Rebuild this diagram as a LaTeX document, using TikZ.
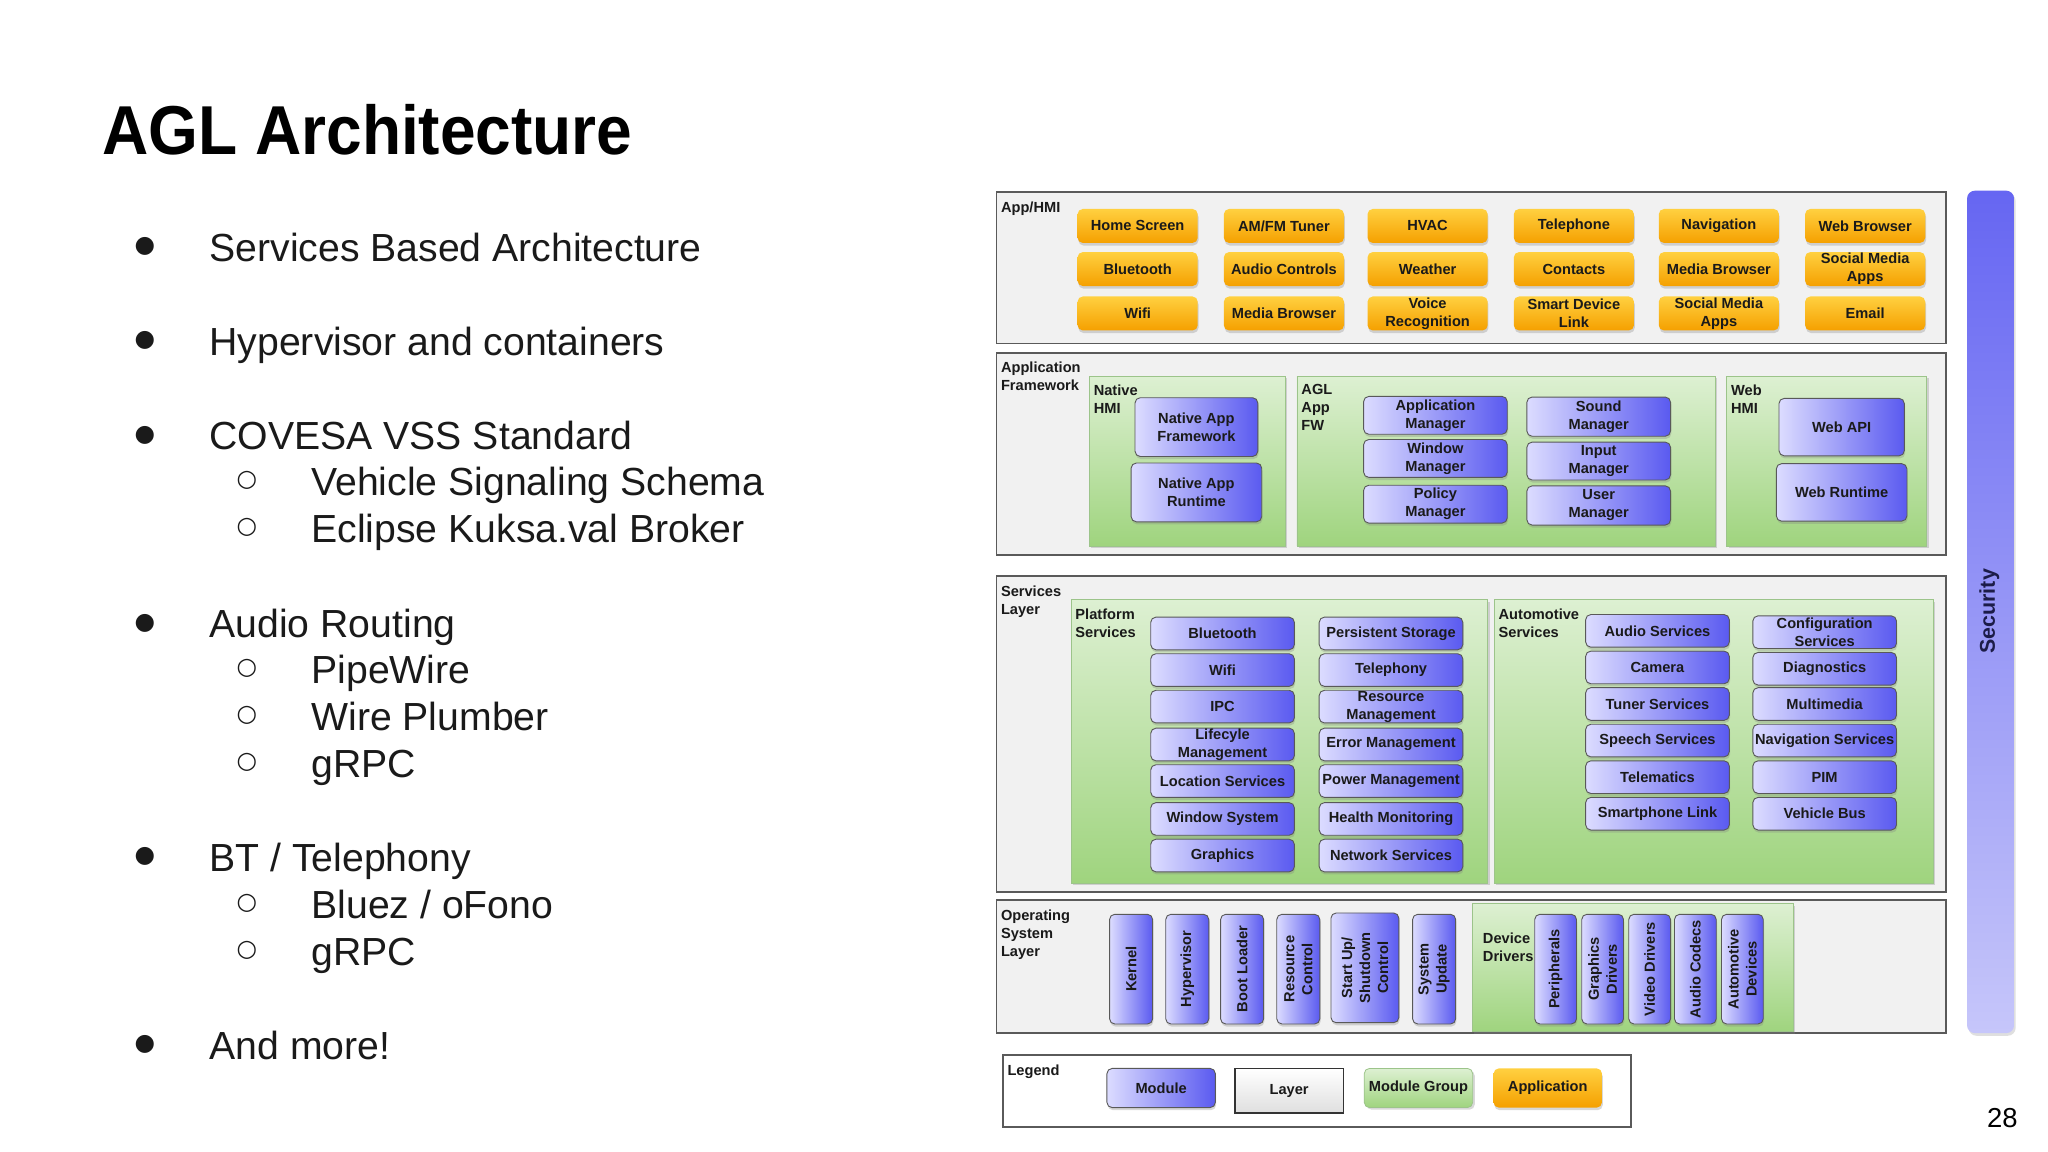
\documentclass[tikz,border=0pt]{standalone}
\usepackage{fontspec}
\setmainfont{Liberation Sans}
\newfontfamily\titlefont[FakeStretch=0.925]{Liberation Sans}
\newfontfamily\symfont{DejaVu Sans}
\usetikzlibrary{shadows}
\definecolor{modL}{HTML}{DCDCFF}
\definecolor{modR}{HTML}{5A5AF0}
\definecolor{appT}{HTML}{FFD040}
\definecolor{appB}{HTML}{F5A000}
\definecolor{grpT}{HTML}{DDF0D2}
\definecolor{grpB}{HTML}{9FD47E}
\definecolor{grpD}{HTML}{9CC48A}
\definecolor{layerF}{HTML}{F1F1F1}
\definecolor{layerD}{HTML}{5A5A5A}
\definecolor{secT}{HTML}{6666F2}
\definecolor{secB}{HTML}{C6C6FA}
\definecolor{secTxt}{HTML}{1C1C48}
\definecolor{txt}{HTML}{1A1A1A}
\newcommand\dfont{\fontsize{5.6pt}{6.9pt}\selectfont\bfseries}
\begin{document}
\begin{tikzpicture}[x=0.5pt,y=-0.5pt,
  layerbox/.style={draw=layerD,fill=layerF,line width=0.7pt},
  grpbox/.style={draw=grpD,top color=grpT,bottom color=grpB,line width=0.3pt,
    drop shadow={shadow xshift=0.8pt,shadow yshift=-0.8pt,opacity=0.3}},
  appbox/.style={rounded corners=2pt,top color=appT,bottom color=appB,draw=none,
    font=\dfont,text=txt,align=center,inner sep=0pt,minimum width=46pt,minimum height=13pt,
    drop shadow={shadow xshift=0.3pt,shadow yshift=-1pt,opacity=0.3}},
  modbox/.style={rounded corners=2pt,left color=modL,right color=modR,draw=gray!70!black,
    line width=0.35pt,font=\dfont,text=txt,align=center,inner sep=0pt,
    drop shadow={shadow xshift=0.3pt,shadow yshift=-1pt,opacity=0.3}},
  vmod/.style={modbox,rotate=90,minimum width=42pt,minimum height=16.5pt},
  lbl/.style={anchor=north west,inner sep=0pt,font=\dfont,text=txt,align=left},
  bul/.style={font=\symfont\fontsize{9pt}{10pt}\selectfont,text=txt,inner sep=0pt},
  btxt/.style={anchor=base west,inner sep=0pt,font=\fontsize{15pt}{18pt}\selectfont,text=txt}
]
\useasboundingbox[fill=white] (0,0) rectangle (1568,882);

% ---------- title and bullets ----------
\node[anchor=base west,inner sep=0pt,font=\titlefont\bfseries\fontsize{26.5pt}{30pt}\selectfont] (title) at (78,118) {AGL Architecture};

\node[bul] (d1) at (111,189) {●};  \node[btxt] (t1) at (160,200) {Services Based Architecture};
\node[bul] (d2) at (111,261) {●};  \node[btxt] (t2) at (160,272) {Hypervisor and containers};
\node[bul] (d3) at (111,333) {●};  \node[btxt] (t3) at (160,344) {COVESA VSS Standard};
\node[bul] (d4) at (189,368) {○};  \node[btxt] (t4) at (238,379) {Vehicle Signaling Schema};
\node[bul] (d5) at (189,404) {○};  \node[btxt] (t5) at (238,415) {Eclipse Kuksa.val Broker};
\node[bul] (d6) at (111,477) {●};  \node[btxt] (t6) at (160,488) {Audio Routing};
\node[bul] (d7) at (189,512) {○};  \node[btxt] (t7) at (238,523) {PipeWire};
\node[bul] (d8) at (189,548) {○};  \node[btxt] (t8) at (238,559) {Wire Plumber};
\node[bul] (d9) at (189,584) {○};  \node[btxt] (t9) at (238,595) {gRPC};
\node[bul] (d10) at (111,656) {●}; \node[btxt] (t10) at (160,667) {BT / Telephony};
\node[bul] (d11) at (189,692) {○}; \node[btxt] (t11) at (238,703) {Bluez / oFono};
\node[bul] (d12) at (189,728) {○}; \node[btxt] (t12) at (238,739) {gRPC};
\node[bul] (d13) at (111,800) {●}; \node[btxt] (t13) at (160,811) {And more!};

\node[anchor=base,inner sep=0pt,font=\fontsize{10.5pt}{12pt}\selectfont] (page) at (1533,863) {28};

% ---------- App/HMI layer ----------
\draw[layerbox] (763,147) rectangle (1490,263);
\node[lbl] (lapp) at (766,154) {App/HMI};
\node[appbox] (a11) at (871,173) {Home Screen};
\node[appbox] (a12) at (983,173) {AM/FM Tuner};
\node[appbox] (a13) at (1093,173) {HVAC};
\node[appbox] (a14) at (1205,173) {Telephone};
\node[appbox] (a15) at (1316,173) {Navigation};
\node[appbox] (a16) at (1428,173) {Web Browser};
\node[appbox] (a21) at (871,206) {Bluetooth};
\node[appbox] (a22) at (983,206) {Audio Controls};
\node[appbox] (a23) at (1093,206) {Weather};
\node[appbox] (a24) at (1205,206) {Contacts};
\node[appbox] (a25) at (1316,206) {Media Browser};
\node[appbox] (a26) at (1428,206) {Social Media\\Apps};
\node[appbox] (a31) at (871,240) {Wifi};
\node[appbox] (a32) at (983,240) {Media Browser};
\node[appbox] (a33) at (1093,240) {Voice\\Recognition};
\node[appbox] (a34) at (1205,240) {Smart Device\\Link};
\node[appbox] (a35) at (1316,240) {Social Media\\Apps};
\node[appbox] (a36) at (1428,240) {Email};

% ---------- Application Framework layer ----------
\draw[layerbox] (763,270) rectangle (1490,425);
\node[lbl] (laf) at (766,277) {Application\\Framework};
\draw[grpbox] (834,288) rectangle (984,418);
\node[lbl] (lnh) at (837,294) {Native\\HMI};
\node[modbox,minimum width=47pt,minimum height=22.5pt] (naf) at (916,327) {Native App\\Framework};
\node[modbox,minimum width=50pt,minimum height=22.5pt] (nar) at (916,377) {Native App\\Runtime};
\draw[grpbox] (993,288) rectangle (1313,418);
\node[lbl] (lagl) at (996,294) {AGL\\App\\FW};
\node[modbox,minimum width=55pt,minimum height=14.5pt] (am) at (1099,318) {Application\\Manager};
\node[modbox,minimum width=55pt,minimum height=14.5pt] (wm) at (1099,351) {Window\\Manager};
\node[modbox,minimum width=55pt,minimum height=14.5pt] (pm) at (1099,386) {Policy\\Manager};
\node[modbox,minimum width=55pt,minimum height=15pt] (sm) at (1224,319) {Sound\\Manager};
\node[modbox,minimum width=55pt,minimum height=14.5pt] (im) at (1224,353) {Input\\Manager};
\node[modbox,minimum width=55pt,minimum height=15pt] (um) at (1224,387) {User\\Manager};
\draw[grpbox] (1322,288) rectangle (1475,418);
\node[lbl] (lweb) at (1325,294) {Web\\HMI};
\node[modbox,minimum width=48pt,minimum height=22pt] (wapi) at (1410,327) {Web API};
\node[modbox,minimum width=50pt,minimum height=22pt] (wrt) at (1410,377) {Web Runtime};

% ---------- Services layer ----------
\draw[layerbox] (763,441) rectangle (1490,683);
\node[lbl] (lsl) at (766,448) {Services\\Layer};
\draw[grpbox] (820,459) rectangle (1139,676);
\node[lbl] (lps) at (823,466) {Platform\\Services};
\begin{scope}[every node/.style={modbox,minimum width=55pt,minimum height=12.5pt}]
\node (p11) at (936,485) {Bluetooth};
\node (p12) at (936,513) {Wifi};
\node (p13) at (936,541) {IPC};
\node (p14) at (936,570) {Lifecyle\\Management};
\node (p15) at (936,598) {Location Services};
\node (p16) at (936,627) {Window System};
\node (p17) at (936,655) {Graphics};
\node (p21) at (1065,485) {Persistent Storage};
\node (p22) at (1065,513) {Telephony};
\node (p23) at (1065,541) {Resource\\Management};
\node (p24) at (1065,570) {Error Management};
\node (p25) at (1065,598) {Power Management};
\node (p26) at (1065,627) {Health Monitoring};
\node (p27) at (1065,655) {Network Services};
\end{scope}
\draw[grpbox] (1144,459) rectangle (1480,676);
\node[lbl] (las) at (1147,466) {Automotive\\Services};
\begin{scope}[every node/.style={modbox,minimum width=55pt,minimum height=12.5pt}]
\node (s11) at (1269,483) {Audio Services};
\node (s12) at (1269,511) {Camera};
\node (s13) at (1269,539) {Tuner Services};
\node (s14) at (1269,567) {Speech Services};
\node (s15) at (1269,595) {Telematics};
\node (s16) at (1269,623) {Smartphone Link};
\node (s21) at (1397,484) {Configuration\\Services};
\node (s22) at (1397,512) {Diagnostics};
\node (s23) at (1397,539) {Multimedia};
\node (s24) at (1397,567) {Navigation Services};
\node (s25) at (1397,595) {PIM};
\node (s26) at (1397,623) {Vehicle Bus};
\end{scope}

% ---------- Operating System layer ----------
\draw[layerbox] (763,689) rectangle (1490,791);
\node[lbl] (los) at (766,696) {Operating\\System\\Layer};
\node[vmod] (k1) at (866,742) {Kernel};
\node[vmod] (k2) at (909,742) {Hypervisor};
\node[vmod] (k3) at (951,742) {Boot Loader};
\node[vmod] (k4) at (994,742) {Resource\\Control};
\node[vmod,minimum height=26pt] (k5) at (1045,741) {Start Up/\\Shutdown\\Control};
\node[vmod] (k6) at (1098,742) {System\\Update};
\draw[grpbox] (1127,692) rectangle (1373,790);
\node[lbl] (ldd) at (1135,714) {Device\\Drivers};
\node[vmod,minimum height=16pt] (dd1) at (1191,742) {Peripherals};
\node[vmod,minimum height=16pt] (dd2) at (1227,742) {Graphics\\Drivers};
\node[vmod,minimum height=16pt] (dd3) at (1263,742) {Video Drivers};
\node[vmod,minimum height=16pt] (dd4) at (1298,742) {Audio Codecs};
\node[vmod,minimum height=16pt] (dd5) at (1334,742) {Automotive\\Devices};

% ---------- Security bar ----------
\node[rounded corners=3pt,top color=secT,bottom color=secB,draw=none,minimum width=18pt,
  minimum height=322.5pt,inner sep=0pt,
  drop shadow={shadow xshift=0.6pt,shadow yshift=-1pt,opacity=0.25}] (sec) at (1524,468.5) {};
\node[rotate=90,font=\fontsize{8.2pt}{9pt}\selectfont\bfseries,text=secTxt,inner sep=0pt] (sectxt) at (1523,468) {Security};

% ---------- Legend ----------
\draw[draw=layerD,fill=white,line width=0.7pt] (768,808) rectangle (1249,863);
\node[lbl] (lleg) at (771,815) {Legend};
\node[modbox,minimum width=41.5pt,minimum height=15pt] (lgm) at (889,833) {Module};
\node[draw=black!80,line width=0.6pt,top color=white,bottom color=gray!25,font=\dfont,text=txt,
  minimum width=41.5pt,minimum height=17pt,inner sep=0pt] (lgl) at (987,835) {Layer};
\node[grpbox,rounded corners=2pt,font=\dfont,text=txt,minimum width=41.5pt,minimum height=15pt,inner sep=0pt] (lgg) at (1086,833) {Module Group};
\node[appbox,minimum width=41.5pt,minimum height=15pt] (lga) at (1185,833) {Application};
\end{tikzpicture}
\end{document}
